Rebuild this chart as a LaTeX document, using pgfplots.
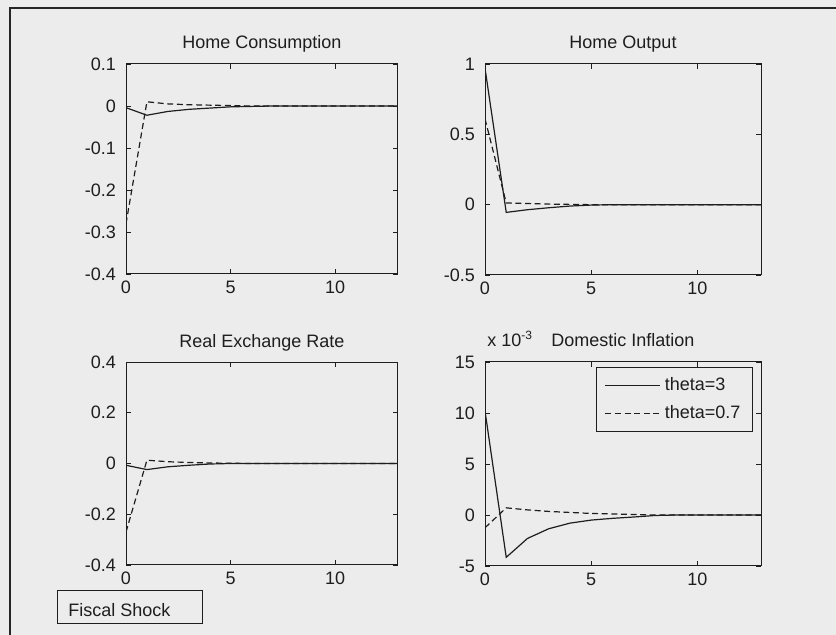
\documentclass[border=0pt]{standalone}
\usepackage{fontspec}
\setmainfont{Liberation Sans}
\usepackage{pgfplots}
\pgfplotsset{compat=1.18}
\definecolor{bg}{RGB}{236,236,236}
\definecolor{ink}{RGB}{30,30,30}
\pgfplotsset{
  myax/.style={
    scale only axis, anchor=south west,
    xmin=0, xmax=13, xtick={0,5,10}, xticklabels={0,5,10},
    tick align=inside, major tick length=2.5pt,
    axis line style={ink, line width=0.5pt},
    every tick/.style={ink, line width=0.4pt},
    tick label style={font=\fontsize{9}{10}\selectfont, text=ink},
    title style={font=\fontsize{9}{10}\selectfont, text=ink, anchor=base, yshift=1.5pt},
    axis background/.style={fill=bg},
    /pgf/number format/assume math mode=true,
    xticklabel style={yshift=0pt},
    yticklabel style={xshift=-1.5pt},
    clip=true,
  },
  sol/.style={ink, line width=0.6pt, no marks},
  das/.style={ink, line width=0.6pt, no marks, dash pattern=on 3pt off 1.8pt},
}
\begin{document}
\begin{tikzpicture}
\path[use as bounding box] (0,0) rectangle (418pt,317.5pt);
\fill[bg] (0,0) rectangle (418pt,317.5pt);
\draw[gray!30!black, line width=0.6pt] (5pt,0) -- (5pt,313.5pt) -- (418pt,313.5pt);

% Home Consumption
\begin{axis}[myax, at={(63pt,180.5pt)}, width=136pt, height=105pt,
  ymin=-0.4, ymax=0.1, ytick={-0.4,-0.3,-0.2,-0.1,0,0.1},
  yticklabels={-0.4,-0.3,-0.2,-0.1,0,0.1}, title={Home Consumption}]
\addplot[sol] coordinates {(0,-0.004) (1,-0.022) (2,-0.013) (3,-0.008) (4,-0.005) (5,-0.002) (6,-0.001) (7,0) (8,0) (9,0) (10,0) (11,0) (12,0) (13,0)};
\addplot[das] coordinates {(0,-0.28) (1,0.010) (2,0.005) (3,0.003) (4,0.002) (5,0.001) (6,0) (7,0) (8,0) (9,0) (10,0) (11,0) (12,0) (13,0)};
\end{axis}

% Home Output
\begin{axis}[myax, at={(242.5pt,180pt)}, width=138pt, height=105.5pt,
  ymin=-0.5, ymax=1, ytick={-0.5,0,0.5,1},
  yticklabels={-0.5,0,0.5,1}, title={Home Output}]
\addplot[sol] coordinates {(0,0.97) (1,-0.055) (2,-0.036) (3,-0.022) (4,-0.010) (5,-0.003) (6,0) (7,0) (8,0) (9,0) (10,0) (11,0) (12,0) (13,0)};
\addplot[das] coordinates {(0,0.61) (1,0.012) (2,0.008) (3,0.004) (4,0.002) (5,0) (6,0) (7,0) (8,0) (9,0) (10,0) (11,0) (12,0) (13,0)};
\end{axis}

% Real Exchange Rate
\begin{axis}[myax, at={(63pt,35pt)}, width=136pt, height=101.5pt,
  ymin=-0.4, ymax=0.4, ytick={-0.4,-0.2,0,0.2,0.4},
  yticklabels={-0.4,-0.2,0,0.2,0.4}, title={Real Exchange Rate}]
\addplot[sol] coordinates {(0,-0.007) (1,-0.024) (2,-0.013) (3,-0.007) (4,-0.002) (5,0) (6,0) (7,0) (8,0) (9,0) (10,0) (11,0) (12,0) (13,0)};
\addplot[das] coordinates {(0,-0.27) (1,0.013) (2,0.007) (3,0.004) (4,0.002) (5,0.001) (6,0) (7,0) (8,0) (9,0) (10,0) (11,0) (12,0) (13,0)};
\end{axis}

% Domestic Inflation (x 10^-3)
\begin{axis}[myax, name=di, at={(242.5pt,34.5pt)}, width=138pt, height=102pt,
  ymin=-5, ymax=15, ytick={-5,0,5,10,15},
  yticklabels={-5,0,5,10,15}, title={Domestic Inflation},
  legend cell align=left,
  legend image code/.code={\draw[#1] (0pt,0pt) -- (27.5pt,0pt);},
  legend style={at={(0.971,0.975)}, anchor=north east, draw=ink, fill=bg,
    font=\fontsize{9}{10}\selectfont, text=ink, line width=0.5pt,
    inner xsep=4pt, inner ysep=3pt, row sep=2pt}]
\addplot[sol] coordinates {(0,10.2) (1,-4.15) (2,-2.3) (3,-1.35) (4,-0.8) (5,-0.5) (6,-0.33) (7,-0.2) (8,-0.05) (9,0) (10,0) (11,0) (12,0) (13,0)};
\addlegendentry{theta=3}
\addplot[das] coordinates {(0,-1.25) (1,0.7) (2,0.5) (3,0.35) (4,0.25) (5,0.15) (6,0.1) (7,0.05) (8,0) (9,0) (10,0) (11,0) (12,0) (13,0)};
\addlegendentry{theta=0.7}
\end{axis}
\node[anchor=base west, font=\fontsize{9}{10}\selectfont, text=ink, inner sep=0pt] at ([xshift=1pt, yshift=7.5pt]di.north west) {x 10\textsuperscript{-3}};

\draw[ink, line width=0.5pt, fill=bg] (28.5pt,5.5pt) rectangle (101pt,22pt);
\node[anchor=base west, font=\fontsize{9}{10}\selectfont, text=ink, inner sep=0pt] at (34pt,9pt) {Fiscal Shock};
\end{tikzpicture}
\end{document}
